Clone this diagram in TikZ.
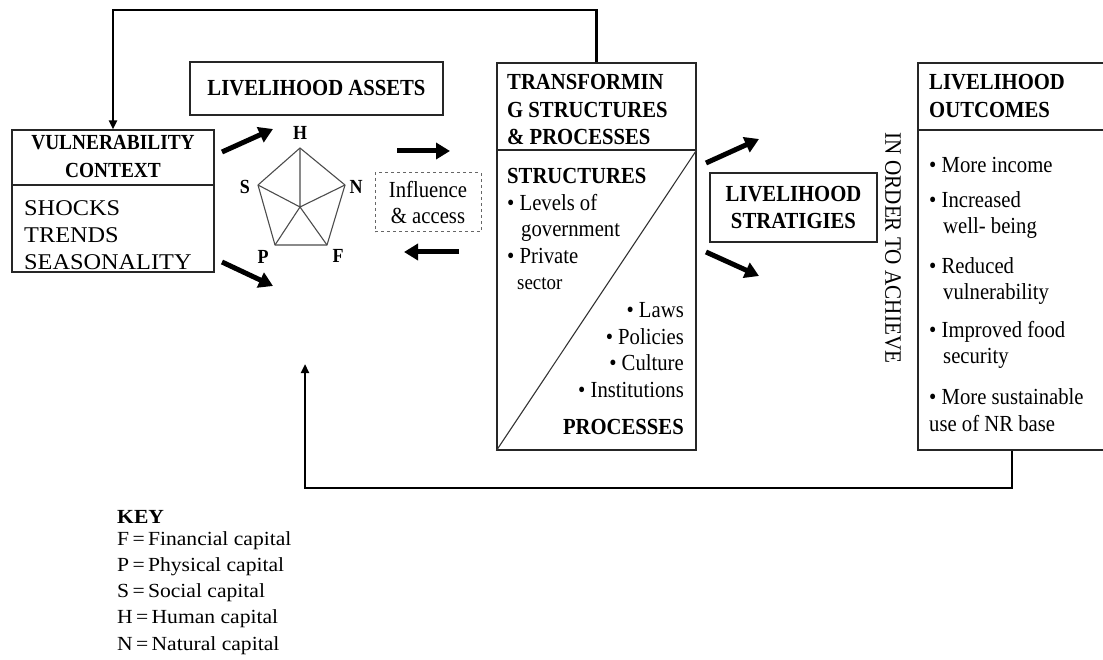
\documentclass[tikz,border=0pt]{standalone}
\usepackage{fontspec}
\setmainfont{Liberation Serif}[FakeStretch=0.9]
\newfontfamily\widefont{Liberation Serif}[FakeStretch=1.08]
\usetikzlibrary{arrows.meta}

\begin{document}
\begin{tikzpicture}[x=1pt,y=-1pt,
  frame/.style={draw=black!85, line width=1.3pt, inner sep=0pt},
  hd/.style={font=\fontsize{23}{27.5}\selectfont\bfseries, inner sep=0pt, align=left},
  bd/.style={font=\fontsize{23}{26.5}\selectfont, inner sep=0pt, align=left},
  bigarrow/.style={line width=5pt, -{Triangle[length=14pt,width=16pt]}},
  feedback/.style={line width=2.6pt, -{Triangle[length=9pt,width=8pt]}},
  web/.style={draw=black!70, line width=1.1pt, line join=round},
  letter/.style={font=\fontsize{20}{20}\selectfont\bfseries, inner sep=0pt},
  keyline/.style={font=\widefont\fontsize{20}{26.3}\selectfont, inner sep=0pt, align=left, text=black}
]
\useasboundingbox (0,0) rectangle (1103,660);

% ---------- boxes ----------
\node[frame, minimum width=202pt, minimum height=142pt] (vul) at (113,201) {};
\draw[draw=black!85, line width=1.1pt] (vul.west |- 0,185) -- (vul.east |- 0,185);
\node[frame, minimum width=253pt, minimum height=53pt] (assets) at (316.5,88.5) {};
\node[draw=black!60, dashed, line width=1pt, minimum width=106pt, minimum height=59pt, inner sep=0pt] (infl) at (428,202.5) {};
\node[frame, minimum width=199pt, minimum height=387pt] (trans) at (596.5,256.5) {};
\draw[draw=black!85, line width=1.1pt] (trans.west |- 0,150) -- (trans.east |- 0,150);
\draw[draw=black!80, line width=1.1pt] (trans.south west) -- (trans.east |- 0,150);
\node[frame, minimum width=167pt, minimum height=69pt] (strat) at (793.5,207.5) {};
\node[frame, minimum width=188pt, minimum height=387pt] (outc) at (1012,256.5) {};
\draw[draw=black!85, line width=1.1pt] (outc.west |- 0,130) -- (outc.east |- 0,130);

% ---------- vulnerability context ----------
\node[hd, font=\fontsize{21.5}{28}\selectfont\bfseries, align=center] (vulh) at (113,157) {VULNERABILITY\\CONTEXT};
\node[bd, font=\widefont\fontsize{22.5}{27}\selectfont, anchor=west] (vulb) at (24,235) {SHOCKS\\TRENDS\\SEASONALITY};

% ---------- livelihood assets ----------
\node[hd] (assetsh) at (assets.center) {LIVELIHOOD ASSETS};
\coordinate (pH) at (300,148);
\coordinate (pN) at (345,185);
\coordinate (pF) at (327,245);
\coordinate (pP) at (275,245);
\coordinate (pS) at (258,185);
\coordinate (pC) at (300,207);
\draw[web] (pH) -- (pN) -- (pF) -- (pP) -- (pS) -- cycle;
\draw[web] (pC) -- (pH) (pC) -- (pN) (pC) -- (pF) (pC) -- (pP) (pC) -- (pS);
\node[letter] (lH) at (300,133) {H};
\node[letter] (lN) at (356,187) {N};
\node[letter] (lF) at (338,256) {F};
\node[letter] (lP) at (263,257) {P};
\node[letter] (lS) at (245,187) {S};

\node[bd, align=center] (inflt) at (infl.center) {Influence\\\& access};

% ---------- transforming structures ----------
\node[hd, anchor=west] (transh) at (507,110) {TRANSFORMIN\\G STRUCTURES\\\& PROCESSES};
\node[hd, anchor=west] (structh) at (507,176) {STRUCTURES};
\node[bd, anchor=west] (structb) at (507,242) {• Levels of\\\hspace*{14pt}government\\• Private\\\hspace*{10pt}{\fontsize{21}{26.5}\selectfont sector}};
\node[bd, align=right, anchor=east] (procb) at (684,350) {• Laws\\• Policies\\• Culture\\• Institutions};
\node[hd, anchor=east] (proch) at (684,427) {PROCESSES};

% ---------- strategies and outcomes ----------
\node[hd, align=center] (strath) at (strat.center) {LIVELIHOOD\\STRATIGIES};
\node[bd, rotate=-90, font=\fontsize{23.5}{23.5}\selectfont] (achieve) at (893,248) {IN ORDER TO ACHIEVE};

\node[hd, anchor=west] (outch) at (929,96) {LIVELIHOOD\\OUTCOMES};
\node[bd, anchor=west] (o1) at (929,165) {• More income};
\node[bd, anchor=west] (o2) at (929,215) {• Increased\\\hspace*{14pt}well- being};
\node[bd, anchor=west] (o3) at (929,281) {• Reduced\\\hspace*{14pt}vulnerability};
\node[bd, anchor=west] (o4) at (929,345) {• Improved food\\\hspace*{14pt}security};
\node[bd, anchor=west] (o5) at (929,410) {• More sustainable\\use of NR base};

% ---------- thick arrows ----------
\coordinate (a1s) at (222,152); \coordinate (a1e) at (273,129);
\coordinate (a2s) at (222,262); \coordinate (a2e) at (273,286);
\coordinate (a3s) at (397,151); \coordinate (a3e) at (450,151);
\coordinate (a4s) at (459,252); \coordinate (a4e) at (404,252);
\coordinate (a5s) at (706,163); \coordinate (a5e) at (759,139);
\coordinate (a6s) at (706,252); \coordinate (a6e) at (759,276);
\draw[bigarrow] (a1s) -- (a1e);
\draw[bigarrow] (a2s) -- (a2e);
\draw[bigarrow] (a3s) -- (a3e);
\draw[bigarrow] (a4s) -- (a4e);
\draw[bigarrow] (a5s) -- (a5e);
\draw[bigarrow] (a6s) -- (a6e);

% ---------- feedback loops ----------
\coordinate (topy) at (0,10);
\draw[feedback] (trans.north) |- (topy -| vul.north) -- (vul.north);
\coordinate (bottomy) at (0,488);
\coordinate (fbtip) at (305,364);
\draw[feedback] (outc.south) |- (bottomy -| fbtip) -- (fbtip);

% ---------- key ----------
\node[keyline, font=\widefont\fontsize{20}{26.3}\selectfont\bfseries, anchor=west] (keyh) at (117,517) {KEY};
\node[keyline, anchor=north west] (keyb) at (117,531) {F\,=\,Financial capital\\P\,=\,Physical capital\\S\,=\,Social capital\\H\,=\,Human capital\\N\,=\,Natural capital};
\end{tikzpicture}
\end{document}
